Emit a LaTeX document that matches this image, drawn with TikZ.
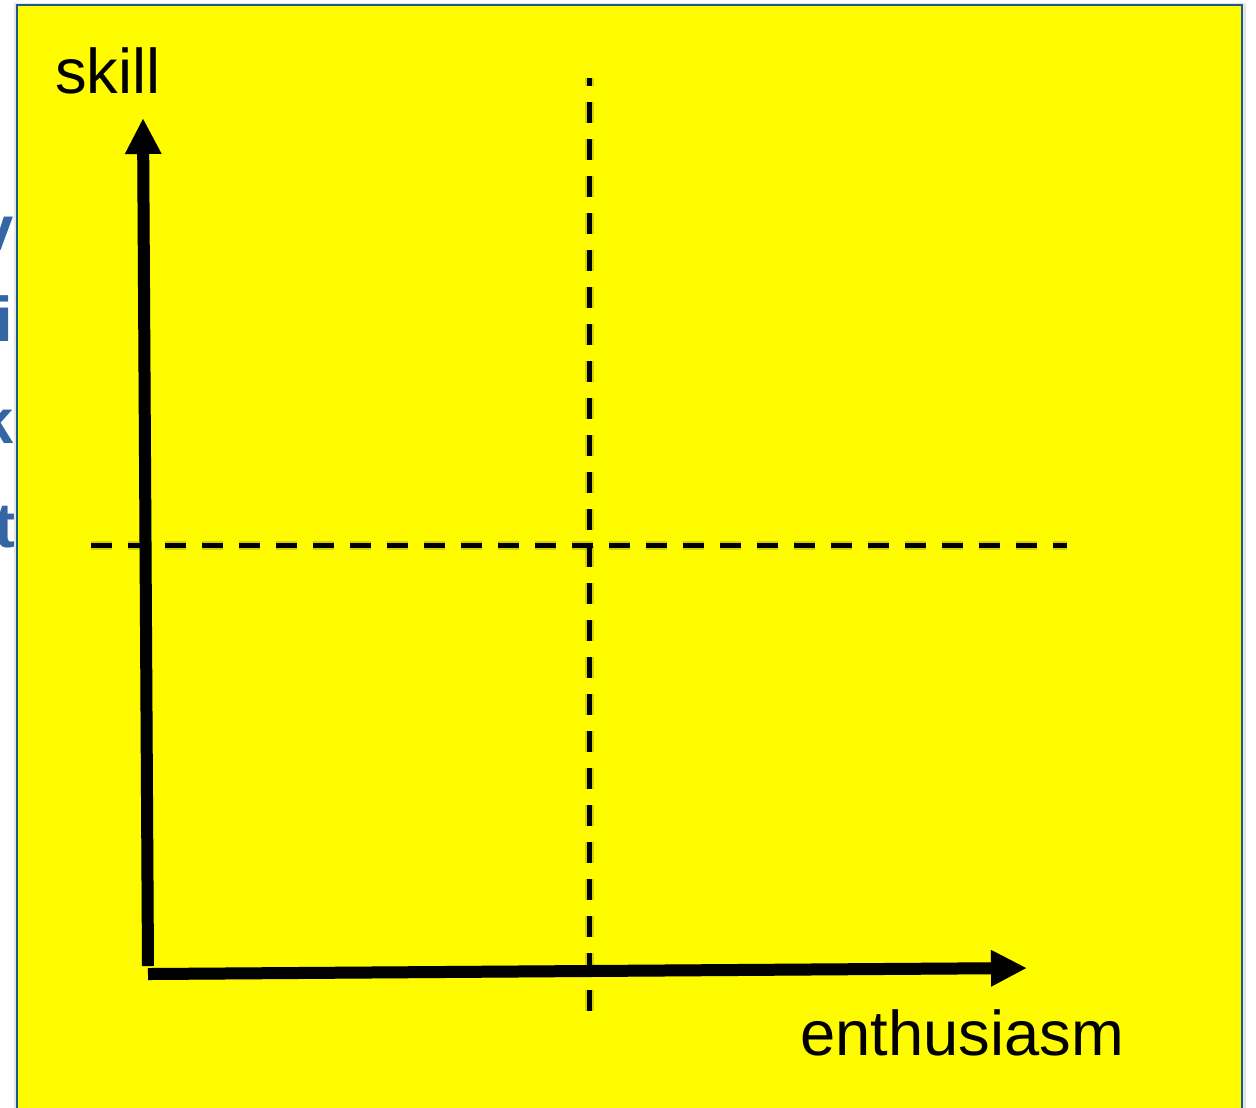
\documentclass[tikz,border=0pt]{standalone}
\usepackage{fontspec}
\setmainfont{Liberation Sans}
\usetikzlibrary{arrows.meta, positioning}
\definecolor{padyellow}{RGB}{255,252,0}
\definecolor{frameblue}{RGB}{30,90,140}
\definecolor{titleblue}{RGB}{52,101,164}
\definecolor{shade}{RGB}{140,140,0}

\begin{document}
\begin{tikzpicture}[
    x=0.02cm, y=-0.02cm,
    axis/.style={line width=0.24cm, -{Triangle[length=0.72cm, width=0.68cm]}},
    guide/.style={line width=0.1cm, dash pattern=on 0.42cm off 0.32cm},
    glow/.style={draw=shade, opacity=0.35, line width=0.18cm},
    axislabel/.style={inner sep=0pt, font=\fontsize{36}{43}\selectfont},
    stub/.style={inner sep=0pt, text=titleblue, font=\fontsize{36}{43}\selectfont\bfseries}
]
\useasboundingbox (0,0) rectangle (1256,1107);
\clip (0,0) rectangle (1256,1107);

% text of the slide behind, cut off by the frame
\node[stub, anchor=base east] (stubV) at (14,250) {v};
\node[stub, anchor=base east] (stubI) at (13,341) {i};
\node[stub, anchor=base east] (stubK) at (14,443) {k};
\node[stub, anchor=base east] (stubT) at (16,547) {t};

% yellow pad
\fill[black!10] (14,3) rectangle (1246,1120);
\filldraw[fill=padyellow, draw=frameblue, line width=0.04cm] (17,5) rectangle (1242,1120);

\coordinate (origin) at (148,966);
\coordinate (skilltip) at (143,118);
\coordinate (enthstart) at (148,974);
\coordinate (enthtip) at (1027,968);
\coordinate (vtop) at (589,78);
\coordinate (vbot) at (589,1020);
\coordinate (hleft) at (91,545);
\coordinate (hright) at (1067,545);

% soft shadows
\draw[guide, glow, dash phase=0.26cm, shift={(3,10)}] (vtop) -- (vbot);
\draw[guide, glow, shift={(5,8)}] (hleft) -- (hright);
\draw[axis, draw=shade, fill=shade, opacity=0.3, shift={(3,6)}] (origin) -- (skilltip);
\draw[axis, draw=shade, fill=shade, opacity=0.3, shift={(3,6)}] (enthstart) -- (enthtip);

% quadrant lines
\draw[guide, dash phase=0.26cm] (vtop) -- (vbot);
\draw[guide] (hleft) -- (hright);

% axes
\draw[axis] (origin) -- (skilltip);
\draw[axis] (enthstart) -- (enthtip);

\node[axislabel, anchor=base west] (skill) at (55,93) {skill};
\node[axislabel, anchor=base west] (enthusiasm) at (800,1055) {enthusiasm};

\end{tikzpicture}
\end{document}
